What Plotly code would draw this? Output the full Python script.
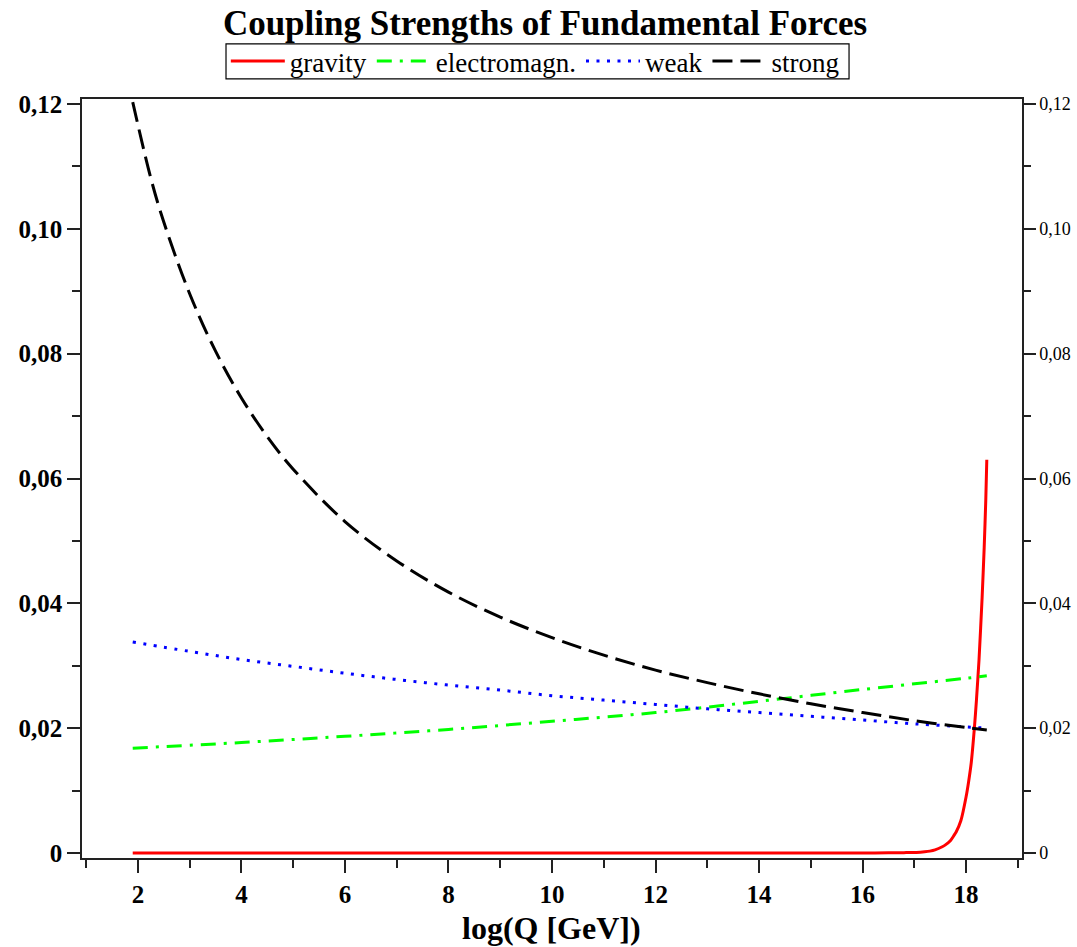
import plotly.graph_objects as go

# ---- data ----
strong_x = [1.9, 2.25, 2.5, 3.0, 3.5, 4.0, 4.5, 5.0, 6.0, 7.0, 8.0, 9.0, 10.0, 11.0,
            12.0, 13.0, 14.0, 15.0, 16.0, 17.0, 18.0, 18.4]
strong_y = [0.1203, 0.1081, 0.1011, 0.0896, 0.0804, 0.0729, 0.0667, 0.0615, 0.0531,
            0.0468, 0.0418, 0.0378, 0.0345, 0.0317, 0.0293, 0.0273, 0.0255, 0.0239,
            0.0225, 0.0212, 0.0201, 0.0197]

weak_x = [1.9, 3, 4, 5, 6, 7, 8, 9, 10, 11, 12, 13, 14, 15, 16, 17, 18, 18.4]
weak_y = [0.0338, 0.0323, 0.0310, 0.0299, 0.0288, 0.0278, 0.0269, 0.0261, 0.0252,
          0.0245, 0.0238, 0.0231, 0.0225, 0.0219, 0.0213, 0.0207, 0.0202, 0.0200]

em_x = [1.9, 4, 6, 8, 10, 12, 14, 16, 18, 18.4]
em_y = [0.0168, 0.0177, 0.0187, 0.0198, 0.0211, 0.0225, 0.0243, 0.0262, 0.0280, 0.0284]

grav_x = [1.9, 4, 6, 8, 10, 12, 14, 16, 16.5, 16.8, 17.04, 17.2, 17.3, 17.4, 17.54,
          17.6, 17.7, 17.75, 17.81, 17.9, 18.0, 18.05, 18.1, 18.16, 18.2, 18.25,
          18.31, 18.35, 18.38, 18.4]
grav_y = [0, 0, 0, 0, 0, 0, 0, 0, 0.00003, 0.00006, 0.0001, 0.0002, 0.0003, 0.0005,
          0.0010, 0.0013, 0.0020, 0.0026, 0.0034, 0.0052, 0.0090, 0.0115, 0.0145,
          0.0200, 0.0245, 0.0310, 0.0410, 0.0490, 0.0565, 0.0630]

y_tickvals = [0, 0.02, 0.04, 0.06, 0.08, 0.10, 0.12]
y_ticktext = ["0", "0,02", "0,04", "0,06", "0,08", "0,10", "0,12"]
x_tickvals = [2, 4, 6, 8, 10, 12, 14, 16, 18]
x_ticktext = ["2", "4", "6", "8", "10", "12", "14", "16", "18"]
x_title = "log(Q [GeV])"

FONT = "Liberation Serif, Times New Roman, serif"
AXC = "#222222"

fig = go.Figure()
fig.add_trace(go.Scatter(x=grav_x, y=grav_y, mode="lines", name="gravity",
                         line=dict(color="#ff0000", width=3, shape="spline",
                                   smoothing=0.5)))
fig.add_trace(go.Scatter(x=em_x, y=em_y, mode="lines", name="electromagn.",
                         line=dict(color="#00ff00", width=3, shape="spline",
                                   dash="15px,8px,3px,8px")))
fig.add_trace(go.Scatter(x=weak_x, y=weak_y, mode="lines", name="weak",
                         line=dict(color="#0000ff", width=3, shape="spline",
                                   dash="3px,7.5px")))
fig.add_trace(go.Scatter(x=strong_x, y=strong_y, mode="lines", name="strong",
                         line=dict(color="#000000", width=3, shape="spline",
                                   dash="20px,8px")))
# invisible carrier for the right-hand axis
fig.add_trace(go.Scatter(x=strong_x, y=strong_y, mode="lines", yaxis="y2",
                         showlegend=False, hoverinfo="skip",
                         line=dict(width=0), opacity=0))

# legend frame (in paper coordinates, around the legend entries)
fig.add_shape(type="rect", xref="paper", yref="paper",
              x0=0.1532, x1=0.816, y0=1.0264, y1=1.0725,
              line=dict(color="black", width=1.2), fillcolor="white", layer="below")

# x-axis title
fig.add_annotation(text=x_title, xref="paper", yref="paper", x=0.499, y=-0.1173,
                   xanchor="center", yanchor="bottom", showarrow=False, borderpad=0,
                   font=dict(family=FONT, size=32, weight="bold", color="black"))

yr = [-0.0008, 0.1208]
fig.update_layout(
    width=1077, height=947,
    margin=dict(l=82, r=55, t=99, b=89, autoexpand=False),
    paper_bgcolor="white", plot_bgcolor="white",
    font=dict(family=FONT, color="black"),
    title=dict(text="Coupling Strengths of Fundamental Forces",
               font=dict(family=FONT, size=35, weight="bold", color="black"),
               x=0.4926, xref="paper", xanchor="center",
               y=1 - 23 / 947, yref="container", yanchor="middle"),
    showlegend=True,
    legend=dict(orientation="h", x=0.153, xanchor="left", y=1.0817, yanchor="top",
                borderwidth=0, bgcolor="rgba(0,0,0,0)",
                font=dict(family=FONT, size=27, color="black"),
                itemwidth=54, tracegroupgap=0),
    xaxis=dict(range=[0.92, 19.08], showgrid=False, zeroline=False, automargin=False,
               showline=True, linecolor=AXC, linewidth=1.5, mirror=True,
               ticks="outside", ticklen=13, tickwidth=1.5, tickcolor=AXC,
               tickmode="array", tickvals=x_tickvals, ticktext=x_ticktext,
               tickfont=dict(family=FONT, size=25, weight="bold", color="black"),
               minor=dict(tickmode="linear", tick0=1, dtick=2, ticks="outside",
                          ticklen=8, tickwidth=1.5, tickcolor=AXC)),
    yaxis=dict(range=yr, showgrid=False, zeroline=False, automargin=False,
               showline=True, linecolor=AXC, linewidth=1.5,
               ticks="outside", ticklen=13, tickwidth=1.5, tickcolor=AXC,
               tickmode="array", tickvals=y_tickvals, ticktext=y_ticktext,
               tickfont=dict(family=FONT, size=25, weight="bold", color="black"),
               minor=dict(tickmode="linear", tick0=0, dtick=0.01, ticks="outside",
                          ticklen=8, tickwidth=1.5, tickcolor=AXC)),
    yaxis2=dict(range=yr, overlaying="y", side="right", showgrid=False,
                automargin=False,
                zeroline=False, showline=True, linecolor=AXC, linewidth=1.5,
                ticks="outside", ticklen=12, tickwidth=1.5, tickcolor=AXC,
                tickmode="array", tickvals=y_tickvals, ticktext=y_ticktext,
                tickfont=dict(family=FONT, size=18, color="black"),
                minor=dict(tickmode="linear", tick0=0, dtick=0.01, ticks="outside",
                           ticklen=7, tickwidth=1.5, tickcolor=AXC)),
)

fig.write_html("out.html")
